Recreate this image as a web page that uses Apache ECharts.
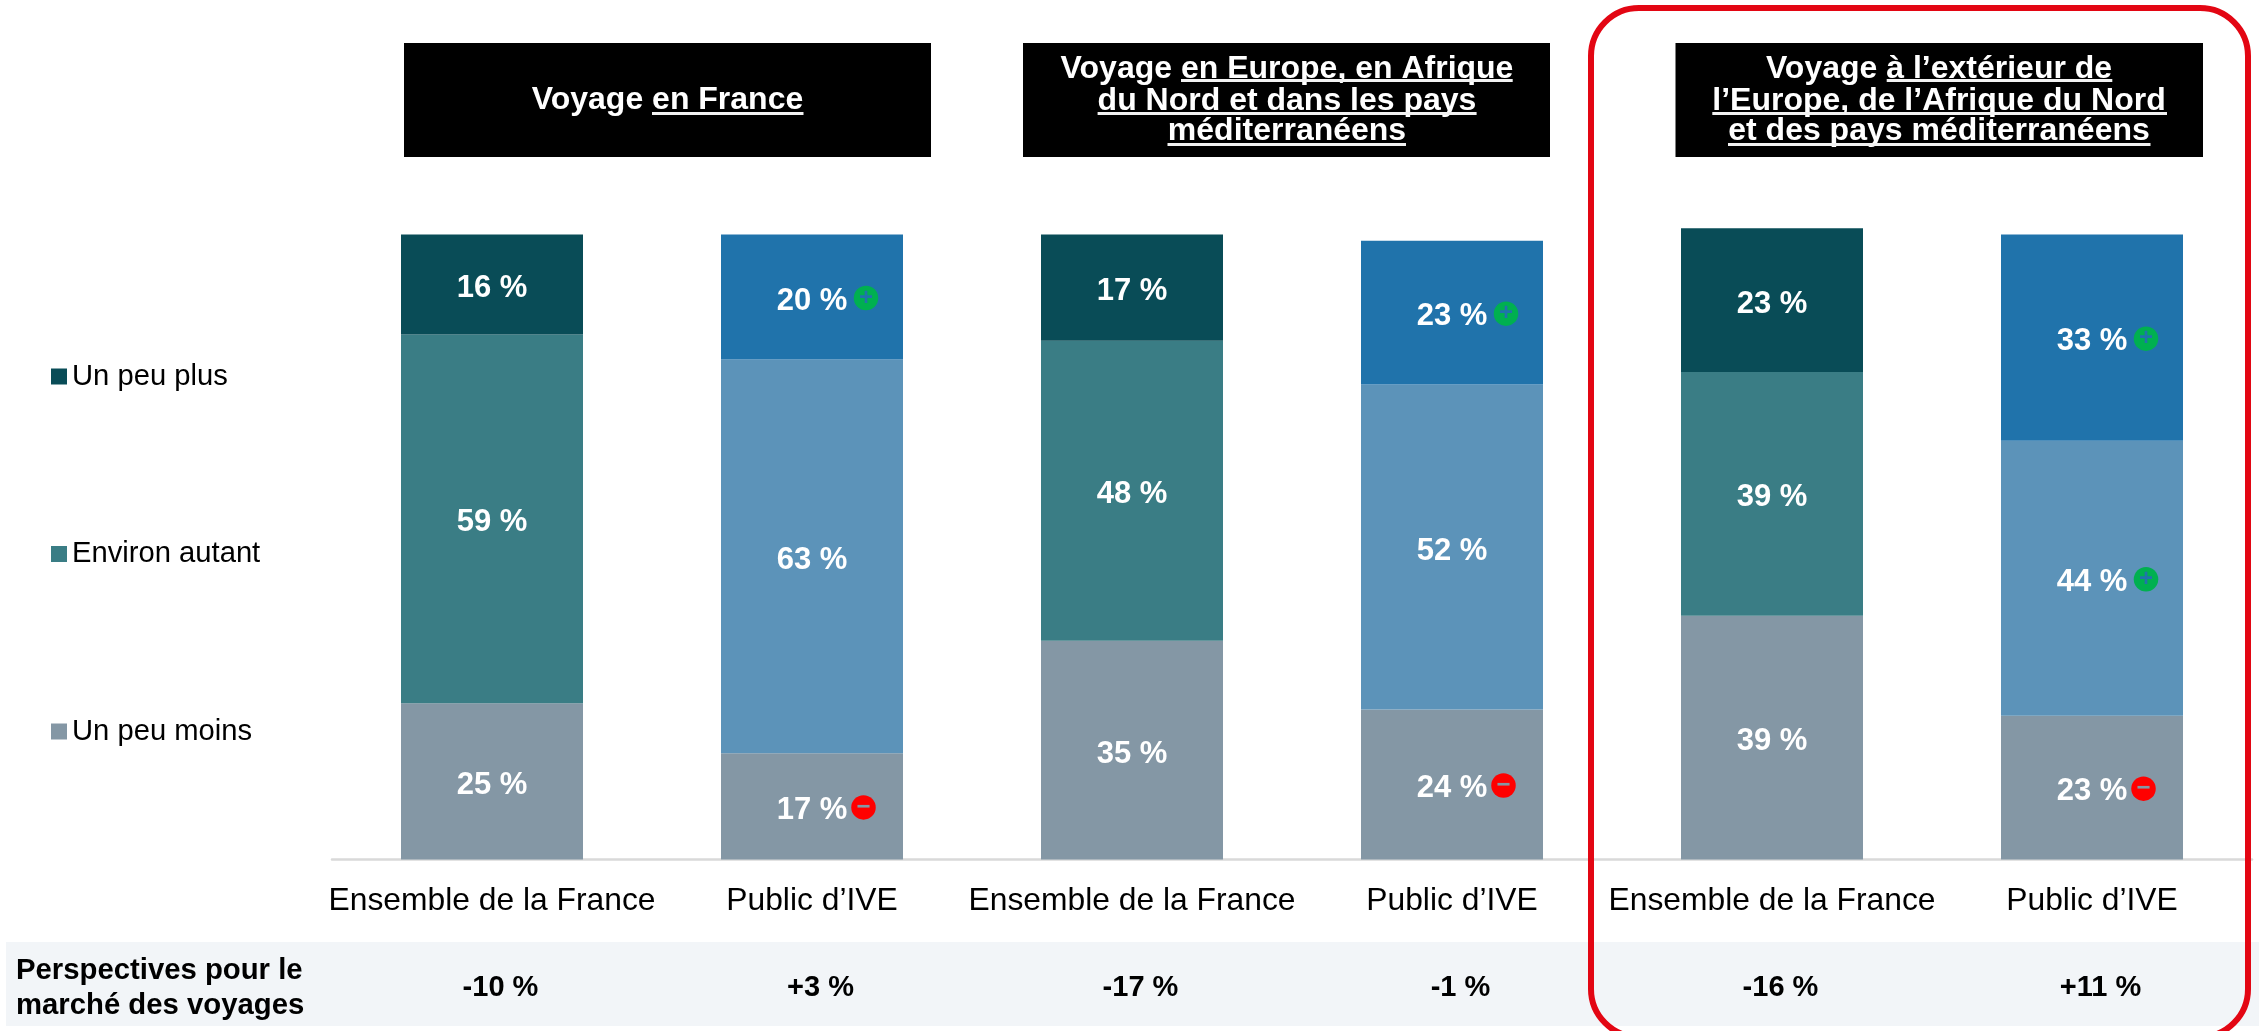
<!DOCTYPE html>
<html><head><meta charset="utf-8">
<style>html,body{margin:0;padding:0;background:#fff}#c{width:2259px;height:1031px}</style>
<script src="https://cdn.jsdelivr.net/npm/echarts@6/dist/echarts.min.js"></script>
</head><body><div id="c"></div>
<script>
const categories = ['Ensemble de la France','Public d\u2019IVE','Ensemble de la France','Public d\u2019IVE','Ensemble de la France','Public d\u2019IVE'];
const moins  = [25,17,35,24,39,23];
const autant = [59,63,48,52,39,44];
const plus   = [16,20,17,23,23,33];
const perspectives = ['-10 %','+3 %','-17 %','-1 %','-16 %','+11 %'];
const legendNames = ['Un peu plus','Environ autant','Un peu moins'];
const rowTitle = 'Perspectives pour le\nmarch\u00e9 des voyages';
// significance marks: [category index, series]
const plusMarks  = [[1,'plus'],[3,'plus'],[5,'plus'],[5,'autant']];
const minusMarks = [[1,'moins'],[3,'moins'],[5,'moins']];
const headers = [
  {cx:667.5, lines:[{t:'Voyage en France', y:100.5, u:[652,803.5,113.5]}]},
  {cx:1287, lines:[
    {t:'Voyage en Europe, en Afrique', y:69, u:[1181,1512.7,80.5]},
    {t:'du Nord et dans les pays', y:101, u:[1097.6,1476.6,113.5]},
    {t:'m\u00e9diterran\u00e9ens', y:131, u:[1167.5,1406,144.5]}]},
  {cx:1939, lines:[
    {t:'Voyage \u00e0 l\u2019ext\u00e9rieur de', y:69, u:[1886.7,2112.3,80.5]},
    {t:'l\u2019Europe, de l\u2019Afrique du Nord', y:101, u:[1712.3,2167,113.5]},
    {t:'et des pays m\u00e9diterran\u00e9ens', y:131, u:[1728,2150.5,144.5]}]}
];
const boxes = [[404,527],[1023,527],[1675.5,527.5]];

const FONT = '"Liberation Sans", Arial, sans-serif';
const C = {plus:'#094c57', autant:'#3a7d85', moins:'#8497a5', pubPlus:'#2073ab', pubAutant:'#5c93b9'};
const isPub = i => i % 2 === 1;
function centre(i, s){
  if (s==='moins') return moins[i]/2;
  if (s==='autant') return moins[i]+autant[i]/2;
  return moins[i]+autant[i]+plus[i]/2;
}
const barLabel = {show:true, position:'inside', offset:[0,4], color:'#fff', fontFamily:FONT, fontWeight:'bold', fontSize:31, formatter:p=>p.value+' %'};
function barSeries(name, data, color, pubColor){
  return {name, type:'bar', stack:'a', barWidth:182, xAxisIndex:0, yAxisIndex:0, itemStyle:{color}, label:barLabel,
    data:data.map((v,i)=> (pubColor && isPub(i)) ? {value:v, itemStyle:{color:pubColor}} : v)};
}
function markSeries(marks, color, sign, off){
  return {type:'scatter', symbol:'circle', symbolSize:24.5, symbolOffset:[off,1], z:5, silent:true, itemStyle:{color, opacity:1},
    label:{show:true, position:'inside', formatter:sign, fontFamily:FONT, fontWeight:'bold', fontSize:24},
    data:marks.map(([i,s])=>({value:[i,centre(i,s)],
      label:{color: s==='moins' ? C.moins : C.pubPlus}}))};
}
const graphic = [];
graphic.push({type:'rect', z:-5, silent:true, shape:{x:6,y:942,width:2253,height:84}, style:{fill:'#f2f5f8'}});
boxes.forEach(b=>graphic.push({type:'rect', silent:true, shape:{x:b[0],y:43,width:b[1],height:114}, style:{fill:'#000'}}));
headers.forEach(h=>h.lines.forEach(l=>{
  graphic.push({type:'text', silent:true, z:3, x:h.cx, y:l.y, style:{text:l.t, fill:'#fff', font:'bold 32px '+FONT, textAlign:'center', textVerticalAlign:'middle'}});
  graphic.push({type:'rect', silent:true, z:3, shape:{x:l.u[0],y:l.u[2]-1.5,width:l.u[1]-l.u[0],height:3}, style:{fill:'#f2f2f2'}});
}));
graphic.push({type:'text', silent:true, z:3, x:16, y:988.5, style:{text:rowTitle, fill:'#000', font:'bold 29.3px '+FONT, lineHeight:35, textAlign:'left', textVerticalAlign:'middle'}});
graphic.push({type:'rect', silent:true, z:10, shape:{x:1591,y:8,width:657,height:1029,r:48}, style:{fill:'none', stroke:'#e30613', lineWidth:6}});

const chart = echarts.init(document.getElementById('c'), null, {renderer:'canvas'});
chart.setOption({
  animation:false, backgroundColor:'#fff',
  legend:{orient:'vertical', left:51, top:362, padding:0, itemWidth:16, itemHeight:16, itemGap:148.5, icon:'rect',
    data:legendNames, textStyle:{fontFamily:FONT, fontSize:29.2, color:'#000'}},
  grid:{left:332, width:1920, top:172, height:687.5, containLabel:false},
  xAxis:[
    {type:'category', data:categories, offset:2.5, axisTick:{show:false}, axisLine:{lineStyle:{color:'#d9d9d9', width:2.5}},
      axisLabel:{interval:0, color:'#000', fontFamily:FONT, fontSize:31.8, margin:23}},
    {type:'category', data:perspectives, position:'bottom', offset:106, axisTick:{show:false}, axisLine:{show:false},
      axisLabel:{interval:0, color:'#000', fontFamily:FONT, fontSize:29, fontWeight:'bold', padding:[0,0,0,17]}}
  ],
  yAxis:{type:'value', min:0, max:110, show:false, splitLine:{show:false}},
  graphic:{elements:graphic},
  series:[
    barSeries('Un peu moins', moins, C.moins),
    barSeries('Environ autant', autant, C.autant, C.pubAutant),
    barSeries('Un peu plus', plus, C.plus, C.pubPlus),
    markSeries(plusMarks,'#00b050','+',54),
    markSeries(minusMarks,'#ff0000','\u2212',51.5)
  ]
});
</script></body></html>
